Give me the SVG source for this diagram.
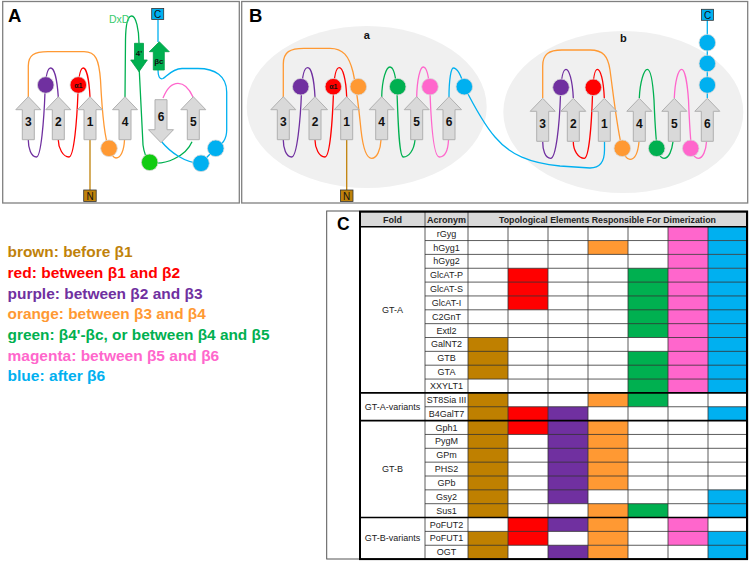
<svg xmlns="http://www.w3.org/2000/svg" width="750" height="563" viewBox="0 0 750 563">
<style>
.frame{fill:none;stroke:#808080;stroke-width:1.3}
.strand{fill:#D9D9D9;stroke:#B0B0B0;stroke-width:1}
.num{font-family:"Liberation Sans",Arial,sans-serif;font-weight:bold;font-size:12px;text-anchor:middle;fill:#111}
.plab{font-family:"Liberation Sans",Arial,sans-serif;font-weight:bold;font-size:18.5px;fill:#000}
.small{font-family:"Liberation Sans",Arial,sans-serif;font-weight:bold;font-size:7px;text-anchor:middle;fill:#111}
.ln{fill:none;stroke-width:1.3}
.pu{stroke:#7030A0}.re{stroke:#FF0000}.or{stroke:#FF9933}.gr{stroke:#00B050}.ma{stroke:#FF66CC}.bl{stroke:#00B0F0}.br{stroke:#C0820A}
.cir{stroke:#D8D8D8;stroke-width:0.8}
.ell{fill:#F0F0F0}
.leg{font-family:"Liberation Sans",Arial,sans-serif;font-weight:bold;font-size:15px}
.t{font-family:"Liberation Sans",Arial,sans-serif;font-size:9px;text-anchor:middle;fill:#222}
.th{font-family:"Liberation Sans",Arial,sans-serif;font-size:9px;font-weight:bold;text-anchor:middle;fill:#222}
.c1{fill:#BF8000}.c2{fill:#FF0000}.c3{fill:#7030A0}.c4{fill:#FF9933}.c5{fill:#00B050}.c6{fill:#FF66CC}.c7{fill:#00B0F0}
.thin{stroke:#333;stroke-width:0.8;fill:none}
.thick{stroke:#000;stroke-width:2;fill:none}
</style>
<defs>
<path id="up" d="M0,0 L12.5,13 L6,13 L6,43 L-6,43 L-6,13 L-12.5,13 Z"/>
</defs>
<rect width="750" height="563" fill="#fff"/>

<!-- Panel frames -->
<rect class="frame" x="2.7" y="1.5" width="236.6" height="201.5"/>
<rect class="frame" x="241.7" y="1.5" width="506" height="201.5"/>
<text class="plab" x="8" y="21.7">A</text>
<text class="plab" x="249" y="21.7">B</text>

<!-- ellipses -->
<ellipse class="ell" cx="366.7" cy="107" rx="120" ry="81"/>
<ellipse class="ell" cx="623.3" cy="112" rx="120" ry="81"/>
<text class="num" x="366.7" y="39" style="font-size:11px">a</text>
<text class="num" x="623.3" y="42" style="font-size:11px">b</text>

<!-- Connectors -->
<g id="connectors">
 <!-- Panel A -->
 <path class="ln pu" d="M58.3,97 C57,78 54,68 50.7,68 C47,68 45.5,78 45,92 C44,120 41,157 36.5,157 C31,157 28.3,148 28.3,140"/>
 <path class="ln re" d="M90,97 C89,78 86,68 83.3,68 C80,68 78.5,78 78,92 C77,120 74,157 69,157 C63,157 58.3,148 58.3,140"/>
 <path class="ln or" d="M28.3,97 L28.3,66 C28.3,55 34,51.7 48,51.7 L84,51.7 C96,51.7 99,60 100.5,80 C102,110 104,138 109,148.3 C111,154 113,158 116,158 C121,158 124,150 124.5,140"/>
 <path class="ln gr" d="M125,97 L125.5,40 C125.7,24 128,16 131.7,16 C136,16 139,30 139,43"/>
 <path class="ln gr" d="M139.3,71 L143,145 C144,153 146,158 149.7,162.3 C165,166 186,156 192,141.7"/>
 <path class="ln ma" d="M163,98 C167,88 172,83.3 178,83.3 C184,83.3 189,88 193,97"/>
 <path class="ln bl" d="M161,141 C170,152 185,163.3 201,163.3 L215.7,148.3 C222,144 226.7,140 226.7,130 L226.7,92 C226.7,76 215,68.5 198,68.5 L182,68.5 C172,69 167,76 163,78.5 C159.5,80 158,76 158,70"/>
 <path class="ln bl" d="M158,20 L158,42"/>
 <path class="ln br" d="M90,140 L90,190"/>
 <!-- Panel B, a -->
 <path class="ln pu" d="M315,97 C314,78 311,67.7 307.7,67.7 C304,67.7 302,78 301.5,92 C300.5,120 297,157 291.7,157 C286,157 283.3,148 283.3,140"/>
 <path class="ln re" d="M346.7,97 C346,78 342.5,67.7 339.3,67.7 C336,67.7 334,78 333.5,92 C332.5,120 330,157 325,157 C319,157 315,148 315,140"/>
 <path class="ln or" d="M283.3,97 L283.3,64 C283.3,52 290,48.3 304,48.3 L330,48.3 C343,48.3 349,56 353,72 C357,90 359,110 361,130 C363,148 366,158.3 371.7,158.3 C377,158.3 380.5,150 381,140"/>
 <path class="ln gr" d="M381.7,97 C382,80 386,67 390,67 C394,67 396,78 397,92 C398,120 399,157 403.3,157 C409,157 414,150 415,140"/>
 <path class="ln ma" d="M416.7,97 C417,80 420,67 423.3,67 C427,67 429,78 430,92 C431,120 433,157 439.3,157 C445,157 448,150 448.5,140"/>
 <path class="ln bl" d="M449,97 C449,80 451,68 453.3,68 C457,68 461,75 464.3,86.7 C472,102 482,122 495,137 C510,155 530,163 560,166 L590,168 C600,168 604.5,162 604.5,150 L604.5,141.7"/>
 <path class="ln br" d="M346.7,140 L346.7,190"/>
 <!-- Panel B, b -->
 <path class="ln pu" d="M573.3,98 C572.5,80 569,69.3 566,69.3 C562.5,69.3 561,80 560.5,95 C559.5,125 556,158.3 550.7,158.3 C545,158.3 542.7,150 542.7,141.7"/>
 <path class="ln re" d="M604.3,98 C603.5,80 600.5,69.3 597.3,69.3 C594,69.3 593,80 592.5,95 C591.5,125 589,158.3 584.3,158.3 C578,158.3 573.3,150 573.3,141.7"/>
 <path class="ln or" d="M542.7,98 L542.7,66 C542.7,54 549,50 562,50 L590,50 C603,50 608,56 610,70 C614,100 618,135 622.3,148.3 C624,155 627,159.3 630,159.3 C635,159.3 638,152 639,141.7"/>
 <path class="ln gr" d="M639.3,98 C640,82 644,69.3 647.3,69.3 C651,69.3 653,85 654,100 C655,125 656,145 658,152 C660,157 662,158.3 664,158.3 C669,158.3 672,150 673,141.7"/>
 <path class="ln ma" d="M674.3,98 C675,82 678,69.3 681.7,69.3 C685,69.3 687.5,85 688.5,100 C689.5,125 691,145 692,152 C694,157 696,158.3 698.3,158.3 C703,158.3 706,150 706.5,141.7"/>
 <path class="ln bl" d="M707.3,98 L707.3,20"/>
</g>

<!-- Panel A nodes -->
<g id="A-strand3"><use href="#up" class="strand" x="28.3" y="96.7"/><text class="num" x="28.3" y="126">3</text></g>
<g id="A-strand2"><use href="#up" class="strand" x="58.3" y="96.7"/><text class="num" x="58.3" y="126">2</text></g>
<g id="A-strand1"><use href="#up" class="strand" x="90" y="96.7"/><text class="num" x="90" y="126">1</text></g>
<g id="A-strand4"><use href="#up" class="strand" x="125" y="96.7"/><text class="num" x="125" y="126">4</text></g>
<g id="A-strand6"><use href="#up" class="strand" transform="translate(161,142.7) rotate(180)"/><text class="num" x="161" y="121">6</text></g>
<g id="A-strand5"><use href="#up" class="strand" x="193.3" y="96.7"/><text class="num" x="193.3" y="126">5</text></g>
<g id="A-strand4p"><path d="M134.5,43.3 L143.5,43.3 L143.5,60 L147.3,60 L139,71.7 L130.7,60 L134.5,60 Z" fill="#00B050" stroke="#00A048" stroke-width="0.8"/><text class="small" x="139" y="56" style="font-size:8px">4'</text></g>
<g id="A-strandbc"><path d="M159.3,41.7 L169.3,51.7 L164.3,51.7 L164.3,70 L153.3,70 L153.3,51.7 L149.3,51.7 Z" fill="#00B050" stroke="#00A048" stroke-width="0.8"/><text class="small" x="158.8" y="64" style="font-size:8px">βc</text></g>
<g id="A-C"><rect x="151.7" y="8.5" width="12" height="11" fill="#00B0F0" stroke="#333" stroke-width="0.8"/><text class="num" x="157.7" y="18" style="font-size:10px;font-weight:normal">C</text></g>
<g id="A-N"><rect x="83.7" y="190" width="12.5" height="11.5" fill="#C0820A" stroke="#333" stroke-width="0.8"/><text class="num" x="90" y="199.5" style="font-size:10px;font-weight:normal">N</text></g>
<g id="A-DxD"><text x="109" y="23" style="font-family:'Liberation Sans',Arial,sans-serif;font-size:10.5px;fill:#3ACB6E">DxD</text></g>
<g id="A-purple"><circle class="cir" cx="45.7" cy="85" r="8.3" fill="#7030A0"/></g>
<g id="A-alpha1"><circle class="cir" cx="78.3" cy="85" r="8.3" fill="#FF0000"/><text class="small" x="78.3" y="87.5">α1</text></g>
<g id="A-orange"><circle class="cir" cx="109" cy="148.3" r="8.3" fill="#FF9933"/></g>
<g id="A-green"><circle class="cir" cx="149.7" cy="162.3" r="8.3" fill="#11CC11"/></g>
<g id="A-blue1"><circle class="cir" cx="215.7" cy="148.3" r="8.3" fill="#00B0F0"/></g>
<g id="A-blue2"><circle class="cir" cx="201" cy="163.3" r="8.3" fill="#00B0F0"/></g>

<!-- Panel B, a nodes -->
<g id="a-strand3"><use href="#up" class="strand" x="283.3" y="96.7"/><text class="num" x="283.3" y="126">3</text></g>
<g id="a-strand2"><use href="#up" class="strand" x="315" y="96.7"/><text class="num" x="315" y="126">2</text></g>
<g id="a-strand1"><use href="#up" class="strand" x="346.7" y="96.7"/><text class="num" x="346.7" y="126">1</text></g>
<g id="a-strand4"><use href="#up" class="strand" x="381.7" y="96.7"/><text class="num" x="381.7" y="126">4</text></g>
<g id="a-strand5"><use href="#up" class="strand" x="416.7" y="96.7"/><text class="num" x="416.7" y="126">5</text></g>
<g id="a-strand6"><use href="#up" class="strand" x="449" y="96.7"/><text class="num" x="449" y="126">6</text></g>
<g id="a-purple"><circle class="cir" cx="300.7" cy="86.7" r="8.3" fill="#7030A0"/></g>
<g id="a-alpha1"><circle class="cir" cx="333.3" cy="86.7" r="8.3" fill="#FF0000"/><text class="small" x="333.3" y="89.2">α1</text></g>
<g id="a-orange"><circle class="cir" cx="358.3" cy="86.7" r="8.3" fill="#FF9933"/></g>
<g id="a-green"><circle class="cir" cx="397.7" cy="86.7" r="8.3" fill="#00B050"/></g>
<g id="a-magenta"><circle class="cir" cx="430" cy="86.7" r="8.3" fill="#FF66CC"/></g>
<g id="a-blue"><circle class="cir" cx="464.3" cy="86.7" r="8.3" fill="#00B0F0"/></g>
<g id="a-N"><rect x="340.5" y="190" width="12.5" height="11.5" fill="#C0820A" stroke="#333" stroke-width="0.8"/><text class="num" x="346.7" y="199.5" style="font-size:10px;font-weight:normal">N</text></g>

<!-- Panel B, b nodes -->
<g id="b-strand3"><use href="#up" class="strand" x="542.7" y="98.3"/><text class="num" x="542.7" y="127.5">3</text></g>
<g id="b-strand2"><use href="#up" class="strand" x="573.3" y="98.3"/><text class="num" x="573.3" y="127.5">2</text></g>
<g id="b-strand1"><use href="#up" class="strand" x="604.3" y="98.3"/><text class="num" x="604.3" y="127.5">1</text></g>
<g id="b-strand4"><use href="#up" class="strand" x="639.3" y="98.3"/><text class="num" x="639.3" y="127.5">4</text></g>
<g id="b-strand5"><use href="#up" class="strand" x="674.3" y="98.3"/><text class="num" x="674.3" y="127.5">5</text></g>
<g id="b-strand6"><use href="#up" class="strand" x="707.3" y="98.3"/><text class="num" x="707.3" y="127.5">6</text></g>
<g id="b-purple"><circle class="cir" cx="561" cy="87.3" r="8.3" fill="#7030A0"/></g>
<g id="b-red"><circle class="cir" cx="593.3" cy="87.3" r="8.3" fill="#FF0000"/></g>
<g id="b-orange"><circle class="cir" cx="622.3" cy="148.3" r="8.3" fill="#FF9933"/></g>
<g id="b-green"><circle class="cir" cx="656.7" cy="148.3" r="8.3" fill="#00B050"/></g>
<g id="b-magenta"><circle class="cir" cx="690.7" cy="148.3" r="8.3" fill="#FF66CC"/></g>
<g id="b-blue1"><circle class="cir" cx="707.3" cy="42.7" r="8.3" fill="#00B0F0"/></g>
<g id="b-blue2"><circle class="cir" cx="707.3" cy="63.5" r="8.3" fill="#00B0F0"/></g>
<g id="b-blue3"><circle class="cir" cx="707.3" cy="85" r="8.3" fill="#00B0F0"/></g>
<g id="b-C"><rect x="701.5" y="9.3" width="12" height="11" fill="#00B0F0" stroke="#333" stroke-width="0.8"/><text class="num" x="707.5" y="18.8" style="font-size:10px;font-weight:normal">C</text></g>

<!-- Legend -->
<g id="legend">
<text class="leg" x="7.5" y="257.3" fill="#C0820A" textLength="125" lengthAdjust="spacingAndGlyphs">brown: before β1</text>
<text class="leg" x="7.5" y="278" fill="#FF0000" textLength="172.7" lengthAdjust="spacingAndGlyphs">red: between β1 and β2</text>
<text class="leg" x="7.5" y="298.7" fill="#7030A0" textLength="195" lengthAdjust="spacingAndGlyphs">purple: between β2 and β3</text>
<text class="leg" x="7.5" y="319.3" fill="#FF9933" textLength="198.3" lengthAdjust="spacingAndGlyphs">orange: between β3 and β4</text>
<text class="leg" x="7.5" y="340" fill="#00B050" textLength="262" lengthAdjust="spacingAndGlyphs">green: β4'-βc, or between β4 and β5</text>
<text class="leg" x="7.5" y="360.7" fill="#FF66CC" textLength="211.7" lengthAdjust="spacingAndGlyphs">magenta: between β5 and β6</text>
<text class="leg" x="7.5" y="381.3" fill="#00B0F0" textLength="97.7" lengthAdjust="spacingAndGlyphs">blue: after β6</text>
</g>

<!-- Panel C -->
<g id="panelC">
<rect x="326.7" y="211" width="421" height="348" fill="#fff" stroke="#555" stroke-width="1"/>
<text class="plab" x="343.3" y="229.5" text-anchor="middle" style="font-size:17.5px">C</text>
<rect x="360" y="211.7" width="387" height="15" fill="#D9D9D9"/>
<!-- colored cells -->
<g>
<rect class="c6" x="668" y="226.7" width="40" height="13.85"/><rect class="c7" x="708" y="226.7" width="39" height="13.85"/>
<rect class="c4" x="588" y="240.55" width="40" height="13.85"/><rect class="c6" x="668" y="240.55" width="40" height="13.85"/><rect class="c7" x="708" y="240.55" width="39" height="13.85"/>
<rect class="c6" x="668" y="254.4" width="40" height="13.85"/><rect class="c7" x="708" y="254.4" width="39" height="13.85"/>
<rect class="c2" x="508" y="268.25" width="40" height="41.55"/>
<rect class="c5" x="628" y="268.25" width="40" height="69.25"/>
<rect class="c5" x="628" y="351.35" width="40" height="41.55"/>
<rect class="c6" x="668" y="268.25" width="40" height="124.65"/>
<rect class="c7" x="708" y="268.25" width="39" height="124.65"/>
<rect class="c1" x="468" y="337.5" width="40" height="41.55"/>
<rect class="c5" x="628" y="392.9" width="40" height="13.85"/>
<rect class="c1" x="468" y="392.9" width="40" height="124.65"/>
<rect class="c4" x="588" y="392.9" width="40" height="13.85"/>
<rect class="c2" x="508" y="406.75" width="40" height="27.7"/>
<rect class="c3" x="548" y="406.75" width="40" height="96.95"/>
<rect class="c7" x="708" y="406.75" width="39" height="13.85"/>
<rect class="c4" x="588" y="420.6" width="40" height="69.25"/>
<rect class="c7" x="708" y="489.85" width="39" height="27.7"/>
<rect class="c4" x="588" y="503.7" width="40" height="41.55"/>
<rect class="c5" x="628" y="503.7" width="40" height="13.85"/>
<rect class="c2" x="508" y="517.55" width="40" height="27.7"/>
<rect class="c3" x="548" y="517.55" width="40" height="13.85"/>
<rect class="c6" x="668" y="517.55" width="40" height="27.7"/>
<rect class="c1" x="468" y="531.4" width="40" height="27.7"/>
<rect class="c7" x="708" y="531.4" width="39" height="27.7"/>
<rect class="c3" x="548" y="545.25" width="40" height="13.85"/>
<rect class="c4" x="588" y="545.25" width="40" height="13.85"/>
</g>
<!-- thin grid -->
<path class="thin" d="M425,211.7V559.1 M468,211.7V559.1 M508,226.7V559.1 M548,226.7V559.1 M588,226.7V559.1 M628,226.7V559.1 M668,226.7V559.1 M708,226.7V559.1
M425,240.55H747 M425,254.4H747 M425,268.25H747 M425,282.1H747 M425,295.95H747 M425,309.8H747 M425,323.65H747 M425,337.5H747 M425,351.35H747 M425,365.2H747 M425,379.05H747
M425,406.75H747 M425,434.45H747 M425,448.3H747 M425,462.15H747 M425,476H747 M425,489.85H747 M425,503.7H747 M425,531.4H747 M425,545.25H747"/>
<path class="thick" d="M360,226.7H747 M360,392.9H747 M360,420.6H747 M360,517.55H747" style="stroke-width:1.6"/>
<rect class="thick" x="360" y="211.7" width="387" height="347.4"/>
<!-- header -->
<text class="th" x="392.5" y="222.5">Fold</text>
<text class="th" x="446.5" y="222.5">Acronym</text>
<text class="th" x="607.5" y="222.5" textLength="217" lengthAdjust="spacingAndGlyphs">Topological Elements Responsible For Dimerization</text>
<!-- fold labels -->
<text class="t" x="392.5" y="312.8">GT-A</text>
<text class="t" x="392.5" y="409.8">GT-A-variants</text>
<text class="t" x="392.5" y="472.2">GT-B</text>
<text class="t" x="392.5" y="541.4">GT-B-variants</text>
<!-- acronyms -->
<text class="t" x="446.5" y="236.6">rGyg</text>
<text class="t" x="446.5" y="250.5">hGyg1</text>
<text class="t" x="446.5" y="264.3">hGyg2</text>
<text class="t" x="446.5" y="278.2">GlcAT-P</text>
<text class="t" x="446.5" y="292">GlcAT-S</text>
<text class="t" x="446.5" y="305.9">GlcAT-I</text>
<text class="t" x="446.5" y="319.7">C2GnT</text>
<text class="t" x="446.5" y="333.6">Extl2</text>
<text class="t" x="446.5" y="347.4">GalNT2</text>
<text class="t" x="446.5" y="361.3">GTB</text>
<text class="t" x="446.5" y="375.1">GTA</text>
<text class="t" x="446.5" y="389">XXYLT1</text>
<text class="t" x="446.5" y="402.8">ST8Sia III</text>
<text class="t" x="446.5" y="416.7">B4GalT7</text>
<text class="t" x="446.5" y="430.5">Gph1</text>
<text class="t" x="446.5" y="444.4">PygM</text>
<text class="t" x="446.5" y="458.2">GPm</text>
<text class="t" x="446.5" y="472.1">PHS2</text>
<text class="t" x="446.5" y="485.9">GPb</text>
<text class="t" x="446.5" y="499.8">Gsy2</text>
<text class="t" x="446.5" y="513.6">Sus1</text>
<text class="t" x="446.5" y="527.5">PoFUT2</text>
<text class="t" x="446.5" y="541.3">PoFUT1</text>
<text class="t" x="446.5" y="555.2">OGT</text>
</g>
</svg>
